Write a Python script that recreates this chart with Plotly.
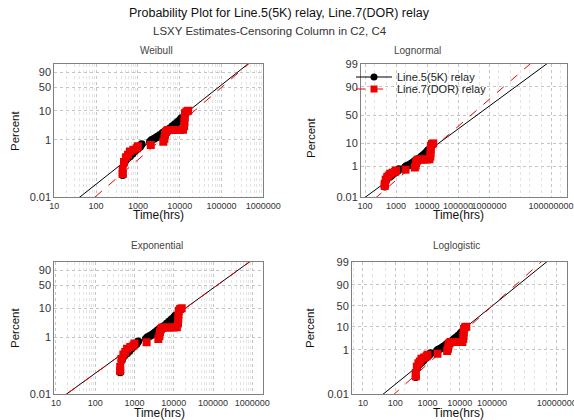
import numpy as np
import plotly.graph_objects as go
from statistics import NormalDist

# ---------------- data ----------------
series_names = ["Line.5(5K) relay", "Line.7(DOR) relay"]
series_colors = ["#000000", "#ee0000"]

black_time = [432, 470, 500, 560, 646, 740, 850, 980, 1125, 1230, 1950, 2140, 2450, 2800,
              3100, 3390, 3900, 4450, 5100, 5850, 6700, 7700, 8900, 10200, 11000]
black_pct = [0.059, 0.15, 0.19, 0.23, 0.27, 0.33, 0.41, 0.49, 0.58, 0.70, 0.87, 1.0, 1.1, 1.23,
             1.35, 1.48, 1.75, 2.0, 2.25, 2.5, 3.0, 3.5, 4.2, 4.9, 5.6]

red_time = [432, 432, 465, 520, 580, 646, 780, 935, 1000, 2030, 4050, 4300, 4450, 4700, 5000,
            5300, 6500, 8000, 10000, 12000, 12800, 13000, 13200, 13400, 14500, 15900]
red_pct = [0.064, 0.09, 0.17, 0.245, 0.30, 0.39, 0.45, 0.51, 0.60, 0.66, 0.87, 1.1, 1.5, 1.9, 2.1,
           2.2, 2.2, 2.2, 2.2, 2.25, 3.0, 4.2, 6.0, 8.2, 9.5, 10.0]

panel_titles = ["Weibull", "Lognormal", "Exponential", "Loglogistic"]

# fitted parameters (LSXY) per panel: [black, red]
weibull_fit = [(1.16, 115000.0), (1.27, 133000.0)]        # (shape, scale)
expo_fit = [186000.0, 188000.0]                           # mean
lognorm_fit = [(5.61, 0.966), (5.42, 0.818)]              # (log10 location, log10 scale)
loglogis_fit = [(5.01, 0.367), (5.01, 0.330)]             # (log10 location, log10 scale)

pct_ticks_w = [0.01, 1, 10, 50, 90]
pct_ticks_n = [0.01, 1, 10, 50, 90, 99]
pct_bottom, pct_top = 0.01, 99

time_ticks_w = [10, 100, 1000, 10000, 100000, 1000000]
time_ticks_ln = [100, 1000, 10000, 100000, 1000000, 100000000]
time_ticks_ll = [10, 100, 1000, 10000, 100000, 10000000]

# log10 x ranges of each panel
xr_weib = [1.0, 6.0]
xr_expo = [0.957, 6.28]
xr_lnorm = [1.871, 8.516]
xr_llog = [0.66, 7.32]

# ---------------- probability scales ----------------
nd = NormalDist()


def t_weib(pct):
    p = np.asarray(pct, dtype=float) / 100.0
    return np.log(-np.log(1 - p))


def t_norm(pct):
    return np.array([nd.inv_cdf(v / 100.0) for v in np.atleast_1d(pct)])


def t_logit(pct):
    p = np.asarray(pct, dtype=float) / 100.0
    return np.log(p / (1 - p))


W, H = 574, 420


def px_dom(a, b, total):
    return [a / total, b / total]


def py_dom(top, bottom):
    return [(H - bottom) / H, (H - top) / H]


panels = [
    dict(name="Weibull", tf=t_weib, xr=xr_weib, xt=time_ticks_w, yt=pct_ticks_w,
         xd=px_dom(54.3, 263.3, W), yd=py_dom(64, 197), minor="D1"),
    dict(name="Lognormal", tf=t_norm, xr=xr_lnorm, xt=time_ticks_ln, yt=pct_ticks_n,
         xd=px_dom(361, 567, W), yd=py_dom(64, 197), minor="D2"),
    dict(name="Exponential", tf=t_weib, xr=xr_expo, xt=time_ticks_w, yt=pct_ticks_w,
         xd=px_dom(54.3, 263.3, W), yd=py_dom(261.7, 394), minor="D1"),
    dict(name="Loglogistic", tf=t_logit, xr=xr_llog, xt=time_ticks_ll, yt=pct_ticks_n,
         xd=px_dom(352, 567, W), yd=py_dom(261.7, 394), minor="D2"),
]


def fit_line(kind, idx, lx):
    t = 10 ** np.asarray(lx)
    if kind == "Weibull":
        b, eta = weibull_fit[idx]
        return b * (np.log(t) - np.log(eta))
    if kind == "Exponential":
        th = expo_fit[idx]
        return np.log(t) - np.log(th)
    if kind == "Lognormal":
        mu, s = lognorm_fit[idx]
        return (np.log10(t) - mu) / s
    mu, s = loglogis_fit[idx]
    return (np.log10(t) - mu) / s


fig = go.Figure()
font_fam = "Liberation Sans, Arial, sans-serif"
grid_c = "#c4c4c4"
minor_c = "#e4e4e4"
axis_c = "#808080"

data_sets = [(black_time, black_pct), (red_time, red_pct)]
symbols = ["circle", "square"]
dashes = ["solid", "dash"]

for i, pn in enumerate(panels):
    k = "" if i == 0 else str(i + 1)
    xa, ya = "x" + k, "y" + k
    tf = pn["tf"]
    lx = np.linspace(pn["xr"][0], pn["xr"][1], 60)
    for j in range(2):
        yl = fit_line(pn["name"], j, lx)
        fig.add_trace(go.Scatter(x=10 ** lx, y=yl, mode="lines", xaxis=xa, yaxis=ya,
                                 line=dict(color=series_colors[j], width=1, dash=dashes[j]),
                                 showlegend=False, hoverinfo="skip"))
    for j in range(2):
        tt, pp = data_sets[j]
        fig.add_trace(go.Scatter(x=tt, y=tf(pp), mode="markers", xaxis=xa, yaxis=ya,
                                 marker=dict(color=series_colors[j], size=8, symbol=symbols[j],
                                             line=dict(width=0)),
                                 showlegend=False))
    axx = dict(type="log", range=pn["xr"], domain=pn["xd"], anchor=ya,
               tickvals=pn["xt"], ticktext=[str(v) for v in pn["xt"]],
               tickfont=dict(size=9, color="#333333", family=font_fam),
               tickangle=0, automargin=False, ticklabeloverflow="allow",
               showline=True, linecolor=axis_c, linewidth=1, mirror=True,
               showgrid=True, gridcolor=grid_c, griddash="3px,3px", gridwidth=1,
               ticks="", zeroline=False,
               minor=dict(dtick=pn["minor"], showgrid=True, gridcolor=minor_c,
                          griddash="3px,3px", ticks=""))
    yv = tf(pn["yt"])
    axy = dict(range=[float(tf([pct_bottom])[0]), float(tf([pct_top])[0])], domain=pn["yd"],
               anchor=xa, tickvals=list(yv), ticktext=[("%g" % v) for v in pn["yt"]],
               tickfont=dict(size=11, color="#333333", family=font_fam),
               automargin=False, ticklabeloverflow="allow",
               showline=True, linecolor=axis_c, linewidth=1, mirror=True,
               showgrid=True, gridcolor=grid_c, griddash="3px,3px", gridwidth=1,
               ticks="", zeroline=False)
    fig.layout["xaxis" + k] = axx
    fig.layout["yaxis" + k] = axy

# legend entries (lognormal panel), one legend box per row
legend_keys = ["legend", "legend2"]
legend_rows = [77, 89]
for j in range(2):
    fig.add_trace(go.Scatter(x=[None], y=[None], mode="lines+markers", xaxis="x2", yaxis="y2",
                             name=series_names[j], legend=legend_keys[j],
                             line=dict(color=series_colors[j], width=1, dash=dashes[j]),
                             marker=dict(color=series_colors[j], size=7, symbol=symbols[j]),
                             showlegend=True))


def note(text, x, y, size, color, angle=0):
    return dict(text=text, x=x / W, y=(H - y) / H, xref="paper", yref="paper",
                xanchor="center", yanchor="middle", showarrow=False, textangle=angle,
                font=dict(size=size, color=color, family=font_fam))


ann = []
title_pos = [(157, 50), (417, 50), (157, 246), (456, 246)]
for (x, y), t in zip(title_pos, panel_titles):
    ann.append(note(t, x, y, 10, "#444444"))
for x, y in [(158, 215.5), (458, 215.5), (159, 412.5), (458, 412.5)]:
    ann.append(note("Time(hrs)", x, y, 12, "#111111"))
for x, y in [(15, 131), (311, 138), (15, 328), (310, 328)]:
    ann.append(note("Percent", x, y, 11.5, "#111111", -90))
ann.append(note("Probability Plot for Line.5(5K) relay, Line.7(DOR) relay", 279, 13, 12.5, "#111111"))
ann.append(note("LSXY Estimates-Censoring Column in C2, C4", 270, 31, 11.5, "#333333"))

leg_common = dict(xanchor="left", yanchor="middle", bgcolor="rgba(0,0,0,0)", borderwidth=0,
                  font=dict(size=11, color="#222222", family=font_fam), itemwidth=36)
fig.update_layout(
    width=W, height=H, margin=dict(l=0, r=0, t=0, b=0, autoexpand=False),
    paper_bgcolor="white", plot_bgcolor="white",
    annotations=ann,
    legend=dict(x=351 / W, y=(H - legend_rows[0]) / H, **leg_common),
    legend2=dict(x=351 / W, y=(H - legend_rows[1]) / H, **leg_common),
)

fig.write_html("out.html", config={"displayModeBar": False},
               post_script="document.body.style.margin='0';")
